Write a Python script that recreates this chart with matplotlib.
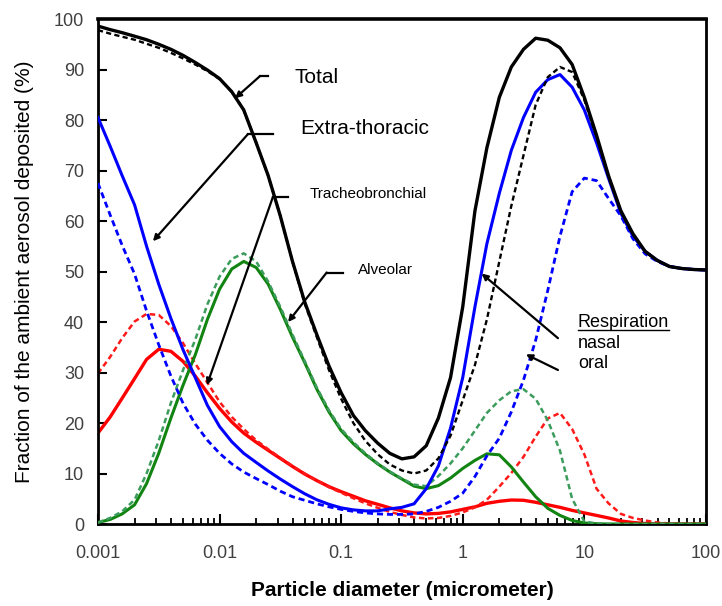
import numpy as np
import matplotlib
matplotlib.use("Agg")
import matplotlib.pyplot as plt
from matplotlib.lines import Line2D
from matplotlib.ticker import LogLocator, NullFormatter, FixedLocator, FixedFormatter

plt.rcParams['font.family'] = ['Liberation Sans', 'DejaVu Sans']

# particle diameter (micrometer), ten samples per decade
diam = [0.001, 0.00126, 0.00158, 0.002, 0.00251, 0.00316, 0.00398, 0.00501, 0.00631, 0.00794,
        0.01, 0.0126, 0.0158, 0.02, 0.0251, 0.0316, 0.0398, 0.0501, 0.0631, 0.0794,
        0.1, 0.126, 0.158, 0.2, 0.251, 0.316, 0.398, 0.501, 0.631, 0.794,
        1, 1.26, 1.58, 2, 2.51, 3.16, 3.98, 5.01, 6.31, 7.94,
        10, 12.6, 15.8, 20, 25.1, 31.6, 39.8, 50.1, 63.1, 79.4, 100]

# deposited fraction (%), nasal and oral breathing
total_nasal = [98.6, 97.9, 97.3, 96.6, 95.9, 95.0, 94.0, 92.8, 91.4, 89.9,
               88.2, 85.6, 82.0, 75.5, 69.0, 61.0, 52.0, 44.0, 37.5, 31.3,
               26.0, 21.5, 18.5, 16.0, 14.0, 12.9, 13.3, 15.5, 21.0, 29.0,
               43.0, 62.0, 74.5, 84.5, 90.5, 94.0, 96.2, 95.8, 94.3, 91.0,
               84.5, 77.0, 69.0, 62.0, 57.5, 54.0, 52.2, 51.0, 50.6, 50.4, 50.3]
total_oral = [97.8, 97.1, 96.5, 95.9, 95.1, 94.3, 93.3, 92.2, 91.0, 89.7,
              88.1, 85.6, 82.0, 75.5, 69.0, 61.0, 52.0, 43.7, 37.0, 30.5,
              24.8, 20.0, 16.5, 13.8, 11.8, 10.6, 10.0, 10.6, 13.0, 17.5,
              24.5, 31.5, 40.5, 52.0, 63.0, 73.0, 83.0, 88.5, 90.5, 89.5,
              84.0, 76.7, 68.8, 61.8, 57.3, 54.0, 52.2, 51.0, 50.6, 50.4, 50.3]
et_nasal = [80.5, 74.8, 69.0, 63.2, 55.0, 47.5, 40.7, 34.5, 29.0, 23.5,
            19.3, 16.3, 14.0, 12.2, 10.5, 8.9, 7.4, 6.0, 4.8, 3.9,
            3.2, 2.8, 2.6, 2.6, 3.0, 3.3, 4.0, 7.0, 11.5, 19.0,
            29.0, 43.0, 55.5, 65.5, 74.0, 80.5, 85.5, 88.0, 89.0, 86.5,
            82.0, 75.5, 68.5, 61.5, 57.0, 54.0, 52.2, 51.0, 50.6, 50.4, 50.3]
et_oral = [67.5, 61.2, 55.2, 49.5, 42.2, 35.5, 29.3, 23.9, 19.8, 16.6,
           14.0, 11.9, 10.3, 9.0, 7.8, 6.5, 5.4, 4.7, 4.0, 3.4,
           2.9, 2.5, 2.2, 2.0, 1.9, 1.9, 2.0, 2.5, 3.3, 4.5,
           6.1, 9.4, 13.5, 17.0, 22.2, 28.5, 36.4, 46.3, 57.0, 65.8,
           68.5, 68.0, 64.5, 61.0, 56.5, 53.5, 52.0, 51.0, 50.6, 50.4, 50.3]
tb_nasal = [0.3, 0.9, 2.0, 3.8, 8.0, 14.0, 21.0, 27.5, 33.5, 40.5,
            46.5, 50.5, 52.0, 50.8, 47.5, 42.5, 37.0, 32.0, 26.7, 22.2,
            18.5, 15.9, 13.8, 11.9, 10.3, 8.9, 7.5, 7.0, 7.6, 9.1,
            11.0, 12.6, 13.9, 13.7, 11.3, 8.3, 5.4, 3.1, 1.7, 0.7,
            0.2, 0.05, 0, 0, 0, 0, 0, 0, 0, 0, 0]
tb_oral = [0.3, 1.2, 2.5, 4.8, 10.0, 16.5, 24.0, 30.5, 36.5, 43.5,
           49.0, 52.5, 53.6, 52.0, 48.0, 43.0, 37.5, 32.3, 27.0, 22.5,
           18.8, 16.2, 14.0, 12.0, 10.4, 9.0, 7.8, 7.5, 9.5, 12.0,
           15.0, 18.5, 22.0, 24.5, 26.3, 26.7, 24.8, 20.5, 14.5, 5.0,
           0.5, 0.1, 0, 0, 0, 0, 0, 0, 0, 0, 0]
al_nasal = [18.0, 21.2, 24.9, 28.8, 32.6, 34.6, 34.2, 32.2, 29.3, 26.0,
            22.9, 20.2, 18.0, 16.2, 14.6, 13.0, 11.4, 9.9, 8.6, 7.4,
            6.4, 5.5, 4.6, 3.9, 3.2, 2.6, 2.2, 2.0, 2.1, 2.4,
            2.9, 3.4, 4.1, 4.5, 4.75, 4.7, 4.3, 3.8, 3.3, 2.7,
            2.2, 1.7, 1.2, 0.6, 0.3, 0.1, 0, 0, 0, 0, 0]
al_oral = [29.8, 33.1, 36.8, 40.1, 41.6, 41.4, 39.2, 35.8, 31.8, 28.0,
           24.2, 21.2, 18.8, 16.6, 14.8, 13.1, 11.5, 10.0, 8.6, 7.3,
           6.2, 5.1, 4.1, 3.2, 2.4, 1.8, 1.3, 1.1, 1.2, 1.6,
           2.3, 3.3, 4.8, 7.4, 10.1, 13.3, 17.3, 20.9, 22.0, 18.8,
           13.8, 7.0, 4.1, 2.0, 1.2, 0.7, 0.3, 0.1, 0, 0, 0]

xticks = [0.001, 0.01, 0.1, 1, 10, 100]
xticklabels = ['0.001', '0.01', '0.1', '1', '10', '100']
yticks = list(range(0, 101, 10))

fig = plt.figure(figsize=(7.22, 6.06), dpi=100)
ax = fig.add_axes([0.1357, 0.1353, 0.842, 0.8333])

dash = (0, (2.2, 1.4))
ax.plot(diam, total_nasal, color='black', lw=2.4, zorder=5)
ax.plot(diam, total_oral, color='black', lw=1.7, ls=dash, zorder=5)
ax.plot(diam, et_nasal, color='#0000ff', lw=2.2, zorder=4)
ax.plot(diam, et_oral, color='#0000ff', lw=2.0, ls=dash, zorder=4)
ax.plot(diam, tb_nasal, color='#128412', lw=2.2, zorder=3)
ax.plot(diam, tb_oral, color='#3c9c5c', lw=1.8, ls=dash, zorder=3)
ax.plot(diam, al_nasal, color='#ff0000', lw=2.4, zorder=2)
ax.plot(diam, al_oral, color='#ff1a1a', lw=1.8, ls=dash, zorder=2)

ax.set_xscale('log')
ax.set_xlim(0.001, 100)
ax.set_ylim(0, 100)
ax.xaxis.set_major_locator(FixedLocator(xticks))
ax.xaxis.set_major_formatter(FixedFormatter(xticklabels))
ax.xaxis.set_minor_locator(LogLocator(base=10, subs=np.arange(2, 10)))
ax.xaxis.set_minor_formatter(NullFormatter())
ax.set_yticks(yticks)

ax.tick_params(axis='x', which='major', direction='in', length=7, width=1.5,
               pad=15, labelsize=13, labelcolor='#404040')
ax.tick_params(axis='x', which='minor', direction='in', length=4.5, width=1.3)
ax.tick_params(axis='y', which='major', direction='in', length=6.5, width=1.5,
               pad=10, labelsize=13, labelcolor='#404040')
for s in ax.spines.values():
    s.set_linewidth(2.0)
ax.spines['top'].set_linewidth(2.6)

ax.set_xlabel('Particle diameter (micrometer)', fontsize=15, fontweight='bold',
              labelpad=14)
ax.set_ylabel('Fraction of the ambient aerosol deposited (%)', fontsize=15,
              labelpad=14)

# labels with elbow arrows
def callout(text, size, tx, ty, hx0, hx1, hy, tip):
    ax.text(tx, ty, text, fontsize=size, ha='left', va='center', zorder=7)
    ax.plot([hx0, hx1], [hy, hy], color='black', lw=1.6, zorder=7)
    ax.annotate('', xy=tip, xytext=(hx1, hy),
                arrowprops=dict(arrowstyle='-|>', color='black', lw=1.6,
                                mutation_scale=9, shrinkA=0, shrinkB=0),
                zorder=7)

callout('Total', 15, 0.0417, 88.4, 0.0250, 0.0215, 88.7, (0.0134, 84.3))
callout('Extra-thoracic', 15, 0.0458, 78.4, 0.0275, 0.0171, 77.2, (0.00283, 56.0))
callout('Tracheobronchial', 11, 0.0553, 65.3, 0.0366, 0.0275, 64.8, (0.00787, 27.5))
callout('Alveolar', 11, 0.1374, 50.3, 0.103, 0.076, 49.8, (0.0366, 40.0))

# breathing-route key
resp = ax.text(8.85, 39.0, 'Respiration', fontsize=13, ha='left', va='baseline', zorder=7)
ax.text(8.85, 34.9, 'nasal', fontsize=13, ha='left', va='baseline', zorder=7)
ax.text(8.85, 30.8, 'oral', fontsize=13, ha='left', va='baseline', zorder=7)
for start, tip in [((6.07, 36.8), (1.43, 49.6)), ((6.07, 30.5), (3.31, 33.6))]:
    ax.annotate('', xy=tip, xytext=start,
                arrowprops=dict(arrowstyle='-|>', color='black', lw=1.6,
                                mutation_scale=9, shrinkA=0, shrinkB=0),
                zorder=7)

fig.canvas.draw()
bb = resp.get_window_extent()
base = ax.transData.transform((8.85, 39.0))[1] - 2.5
inv = fig.transFigure.inverted()
(ux0, uy), (ux1, _) = inv.transform([[bb.x0, base], [bb.x1, base]])
fig.add_artist(Line2D([ux0, ux1], [uy, uy], color='black', lw=1.0,
                      transform=fig.transFigure))

fig.savefig('out.png', dpi=100)
